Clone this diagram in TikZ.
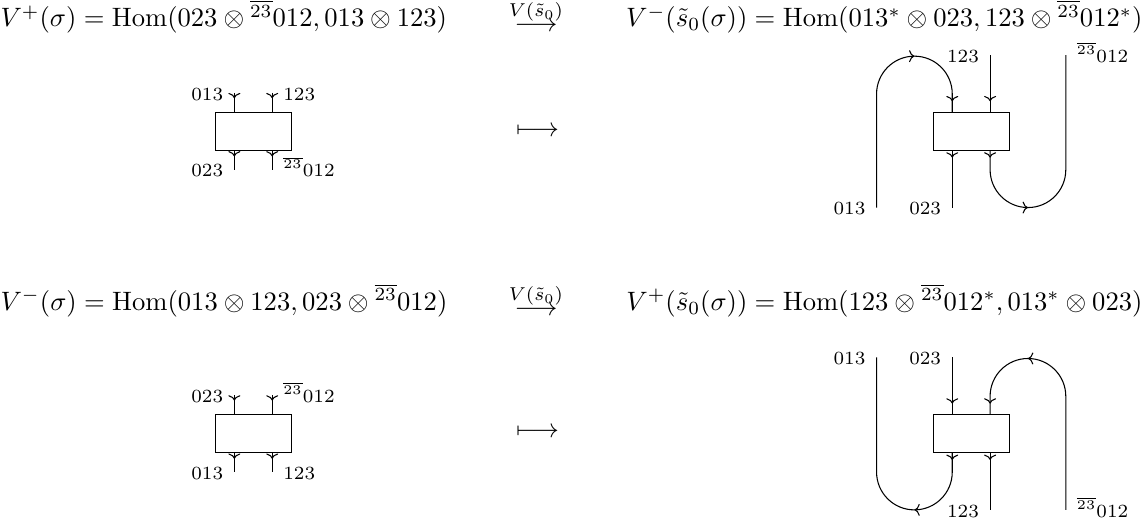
\documentclass[tikz,border=0pt]{standalone}
\usepackage{amsmath,amssymb,amsfonts}
\usepackage{xcolor}
\usetikzlibrary{arrows.meta, positioning, decorations.markings}

\begin{document}
\begin{tikzpicture}[
  hombox/.style={rectangle, draw=black, minimum width=1cm, minimum height=0.5cm, inner sep=0pt},
  lbl/.style={font=\scriptsize, inner sep=0pt, text height=1.5ex, text depth=0.25ex},
  eqn/.style={inner sep=0pt},
  arrowat/.style={postaction={decorate, decoration={markings, mark=at position #1 with {\arrow{Computer Modern Rightarrow[length=2pt,width=4.5pt]}}}}}
]
\useasboundingbox (0,0) rectangle (15.10,-6.91);

% first row
\node (hp) [eqn, anchor=base west] at (0,-0.353) {$V^+(\sigma) = \mathrm{Hom}(023 \otimes {}^{\overline{23}}012, 013 \otimes 123)$};
\node (fp) [eqn] at (7.08,-0.353) {$\longrightarrow$};
\node (fpl) [eqn, font=\scriptsize] at ([yshift=0.19cm]fp.center) {$V(\tilde{s}_0)$};
\node (hpm) [eqn, anchor=base east] at (15.10,-0.353) {$V^-(\tilde{s}_0(\sigma)) = \mathrm{Hom}(013^* \otimes 023, 123 \otimes {}^{\overline{23}}012^*)$};

\node (sa) [hombox] at (3.346,-1.735) {};
\coordinate (sa013) at ([xshift=-0.25cm, yshift=0.25cm]sa.north);
\coordinate (sa123) at ([xshift=0.25cm, yshift=0.25cm]sa.north);
\coordinate (sa023) at ([xshift=-0.25cm, yshift=-0.25cm]sa.south);
\coordinate (sa012) at ([xshift=0.25cm, yshift=-0.25cm]sa.south);
\draw [arrowat=0.07cm] (sa013) -- ([xshift=-0.25cm]sa.north);
\draw [arrowat=0.07cm] (sa123) -- ([xshift=0.25cm]sa.north);
\draw [arrowat=0.075cm] ([xshift=-0.25cm]sa.south) -- (sa023);
\draw [arrowat=0.075cm] ([xshift=0.25cm]sa.south) -- (sa012);
\node (lsa013) [lbl, left=4pt of sa013] {$013$};
\node (lsa123) [lbl, right=4pt of sa123] {$123$};
\node (lsa023) [lbl, left=4pt of sa023] {$023$};
\node (lsa012) [lbl, right=4pt of sa012] {${}^{\overline{23}}012$};

\node (ma) at (7.10,-1.744) {$\longmapsto$};

\node (la) [hombox] at (12.83,-1.735) {};
\coordinate (la013) at ([xshift=-1.25cm, yshift=-0.75cm]la.south);
\coordinate (la023) at ([xshift=-0.25cm, yshift=-0.75cm]la.south);
\coordinate (la123) at ([xshift=0.25cm, yshift=0.75cm]la.north);
\coordinate (la012) at ([xshift=1.25cm, yshift=0.75cm]la.north);
\draw [arrowat=2.285cm, arrowat=-0.14cm] (la013) -- ++(0,1.5) arc[start angle=180, end angle=0, radius=0.5cm] -- ([xshift=-0.25cm]la.north);
\draw [arrowat=-0.14cm] (la123) -- ([xshift=0.25cm]la.north);
\draw [arrowat=0.09cm] ([xshift=-0.25cm]la.south) -- (la023);
\draw [arrowat=0.09cm, arrowat=1.035cm] ([xshift=0.25cm]la.south) -- ++(0,-0.25) arc[start angle=180, end angle=360, radius=0.5cm] -- (la012);
\node (lla013) [lbl, left=4pt of la013] {$013$};
\node (lla023) [lbl, left=4pt of la023] {$023$};
\node (lla123) [lbl, left=4pt of la123] {$123$};
\node (lla012) [lbl, right=4pt of la012] {${}^{\overline{23}}012$};

% second row
\node (hm) [eqn, anchor=base west] at (0,-4.10) {$V^-(\sigma) = \mathrm{Hom}(013 \otimes 123, 023 \otimes {}^{\overline{23}}012)$};
\node (fm) [eqn] at (7.08,-4.10) {$\longrightarrow$};
\node (fml) [eqn, font=\scriptsize] at ([yshift=0.19cm]fm.center) {$V(\tilde{s}_0)$};
\node (hmp) [eqn, anchor=base east] at (15.10,-4.10) {$V^+(\tilde{s}_0(\sigma)) = \mathrm{Hom}(123 \otimes {}^{\overline{23}}012^*, 013^* \otimes 023)$};

\node (sb) [hombox] at (3.346,-5.729) {};
\coordinate (sb023) at ([xshift=-0.25cm, yshift=0.25cm]sb.north);
\coordinate (sb012) at ([xshift=0.25cm, yshift=0.25cm]sb.north);
\coordinate (sb013) at ([xshift=-0.25cm, yshift=-0.25cm]sb.south);
\coordinate (sb123) at ([xshift=0.25cm, yshift=-0.25cm]sb.south);
\draw [arrowat=0.07cm] (sb023) -- ([xshift=-0.25cm]sb.north);
\draw [arrowat=0.07cm] (sb012) -- ([xshift=0.25cm]sb.north);
\draw [arrowat=0.075cm] ([xshift=-0.25cm]sb.south) -- (sb013);
\draw [arrowat=0.075cm] ([xshift=0.25cm]sb.south) -- (sb123);
\node (lsb023) [lbl, left=4pt of sb023] {$023$};
\node (lsb012) [lbl, right=4pt of sb012] {${}^{\overline{23}}012$};
\node (lsb013) [lbl, left=4pt of sb013] {$013$};
\node (lsb123) [lbl, right=4pt of sb123] {$123$};

\node (mb) at (7.10,-5.72) {$\longmapsto$};

\node (lb) [hombox] at (12.83,-5.729) {};
\coordinate (lb013) at ([xshift=-1.25cm, yshift=0.75cm]lb.north);
\coordinate (lb023) at ([xshift=-0.25cm, yshift=0.75cm]lb.north);
\coordinate (lb123) at ([xshift=0.25cm, yshift=-0.75cm]lb.south);
\coordinate (lb012) at ([xshift=1.25cm, yshift=-0.75cm]lb.south);
\draw [arrowat=-0.14cm] (lb023) -- ([xshift=-0.25cm]lb.north);
\draw [arrowat=2.285cm, arrowat=-0.14cm] (lb012) -- ++(0,1.5) arc[start angle=0, end angle=180, radius=0.5cm] -- ([xshift=0.25cm]lb.north);
\draw [arrowat=0.09cm, arrowat=1.035cm] ([xshift=-0.25cm]lb.south) -- ++(0,-0.25) arc[start angle=0, end angle=-180, radius=0.5cm] -- (lb013);
\draw [arrowat=0.09cm] ([xshift=0.25cm]lb.south) -- (lb123);
\node (llb013) [lbl, left=4pt of lb013] {$013$};
\node (llb023) [lbl, left=4pt of lb023] {$023$};
\node (llb123) [lbl, left=4pt of lb123] {$123$};
\node (llb012) [lbl, right=4pt of lb012] {${}^{\overline{23}}012$};

\end{tikzpicture}
\end{document}
